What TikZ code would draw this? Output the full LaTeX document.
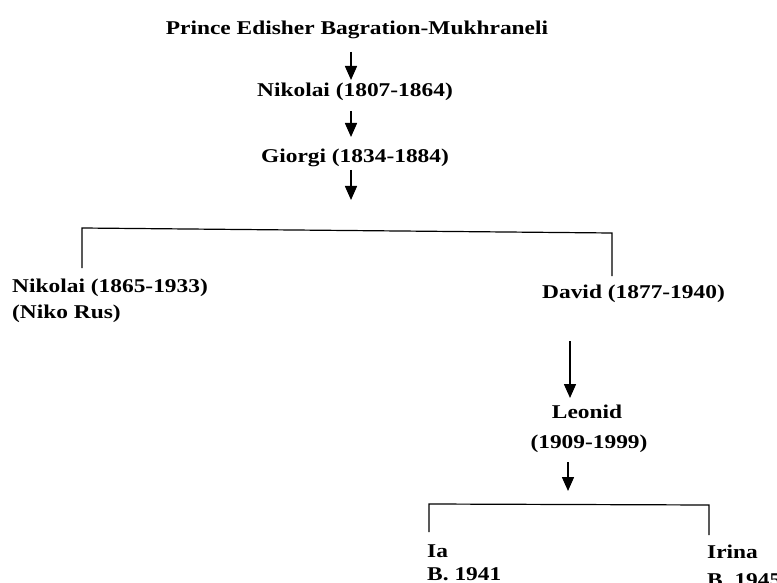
\documentclass[tikz,border=0pt]{standalone}
\usepackage{fontspec}
\setmainfont{Liberation Serif}[FakeStretch=1.2]
\usetikzlibrary{arrows.meta}
\begin{document}
\begin{tikzpicture}[x=1pt,y=-1pt,
  person/.style={inner sep=0pt,font=\fontsize{19.5}{22}\selectfont\bfseries,text=black},
  cline/.style={line width=1.2pt,black},
  darrow/.style={line width=1.5pt,black,-{Triangle[width=12pt,length=14pt]}}]
\useasboundingbox (0,0) rectangle (777,583);
% nodes
\node[person,anchor=base] (title) at (357,35) {Prince Edisher Bagration-Mukhraneli};
\node[person,anchor=base] (nik1) at (355,97) {Nikolai (1807-1864)};
\node[person,anchor=base] (gio) at (355,163) {Giorgi (1834-1884)};
\node[person,anchor=base west] (nik2) at (12,292) {Nikolai (1865-1933)};
\node[person,anchor=base west] (niko) at (12,318) {(Niko Rus)};
\node[person,anchor=base west] (dav) at (542,298) {David (1877-1940)};
\node[person,anchor=base] (leo) at (587,418) {Leonid};
\node[person,anchor=base] (leoy) at (589,448) {(1909-1999)};
\node[person,anchor=base west] (ia) at (427,557) {Ia};
\node[person,anchor=base west] (iay) at (427,580) {B. 1941};
\node[person,anchor=base west] (iri) at (707,558) {Irina};
\node[person,anchor=base west] (iriy) at (707,586) {B. 1945};
% arrow end points
\coordinate (a1s) at (351,52);  \coordinate (a1e) at (351,80);
\coordinate (a2s) at (351,111); \coordinate (a2e) at (351,137);
\coordinate (a3s) at (351,170); \coordinate (a3e) at (351,200);
\coordinate (a4s) at (570,341); \coordinate (a4e) at (570,398);
\coordinate (a5s) at (568,462); \coordinate (a5e) at (568,491);
% branch points
\coordinate (b1l) at (82,228);  \coordinate (b1r) at (612,233);
\coordinate (b1ld) at (82,268); \coordinate (b1rd) at (612,276);
\coordinate (b2l) at (429,504); \coordinate (b2r) at (709,505);
\coordinate (b2ld) at (429,532); \coordinate (b2rd) at (709,535);
% arrows
\draw[darrow] (a1s) -- (a1e);
\draw[darrow] (a2s) -- (a2e);
\draw[darrow] (a3s) -- (a3e);
\draw[darrow] (a4s) -- (a4e);
\draw[darrow] (a5s) -- (a5e);
% brackets
\draw[cline] (b1ld) -- (b1l) -- (b1r) -- (b1rd);
\draw[cline] (b2ld) -- (b2l) -- (b2r) -- (b2rd);
\end{tikzpicture}
\end{document}
